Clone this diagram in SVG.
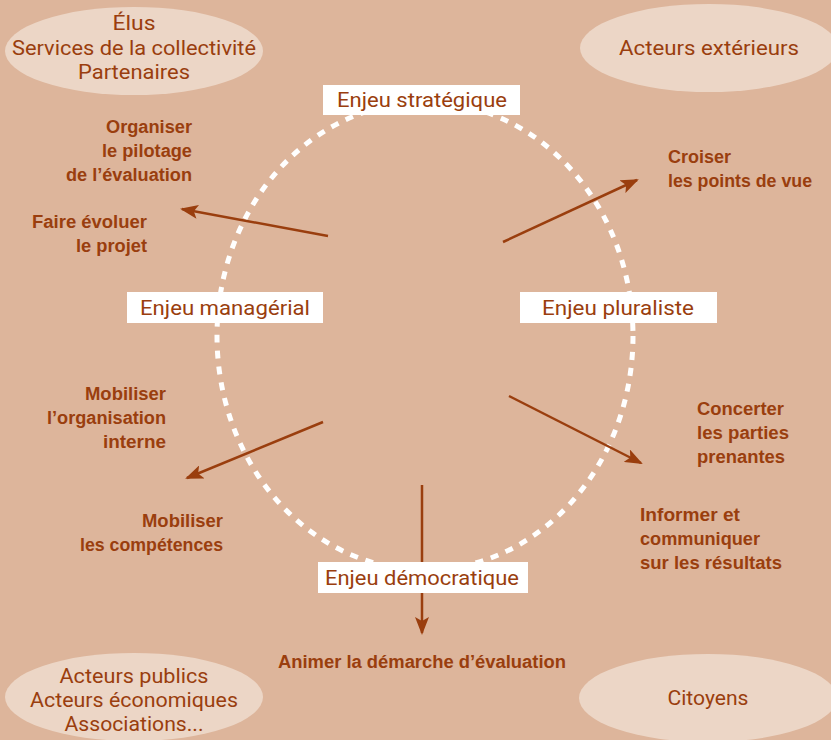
<svg xmlns="http://www.w3.org/2000/svg" width="831" height="740" viewBox="0 0 831 740">
<defs>
<marker id="ah" markerWidth="18" markerHeight="14" refX="16" refY="7" orient="auto" markerUnits="userSpaceOnUse" viewBox="0 0 18 14">
<path d="M0,0 L18,7 L0,14 L4,7 z" fill="#9A3E0E"/>
</marker>
<style>
.bg{fill:#DDB59B}
.ell{fill:#ECD6C6}
.et{font-family:Roboto,"Liberation Sans",sans-serif;font-weight:400;font-size:21px;fill:#9A3E0E;text-anchor:middle}
.box{fill:#FFFFFF}
.bt{font-family:Roboto,"Liberation Sans",sans-serif;font-weight:400;font-size:21px;fill:#9A3E0E;text-anchor:middle}
.lt{font-family:"Liberation Sans","DejaVu Sans",sans-serif;font-size:17.5px;font-weight:bold;fill:#9A3E0E}
.r{text-anchor:end}
.c{text-anchor:middle}
.arr{stroke:#9A3E0E;stroke-width:2.5;fill:none;marker-end:url(#ah)}
.dash{fill:none;stroke:#FFFFFF;stroke-width:5;stroke-dasharray:8 8}
</style>
</defs>
<rect class="bg" x="0" y="0" width="831" height="740"/>
<ellipse class="dash" cx="425" cy="336" rx="208" ry="234"/>
<g id="connectors">
<line class="arr" x1="328" y1="236" x2="182" y2="209"/>
<line class="arr" x1="503" y1="242" x2="637" y2="180"/>
<line class="arr" x1="323" y1="422" x2="187" y2="478"/>
<line class="arr" x1="509" y1="396" x2="641" y2="463"/>
<line class="arr" x1="422" y1="485" x2="422" y2="633"/>
</g>
<g id="elus">
<ellipse class="ell" cx="134" cy="51" rx="129" ry="44"/>
<text class="et" x="134" y="30" textLength="43" lengthAdjust="spacingAndGlyphs">Élus</text>
<text class="et" x="134" y="55" textLength="244" lengthAdjust="spacingAndGlyphs">Services de la collectivité</text>
<text class="et" x="134" y="79" textLength="112" lengthAdjust="spacingAndGlyphs">Partenaires</text>
</g>
<g id="acteurs-exterieurs">
<ellipse class="ell" cx="709" cy="48" rx="129" ry="44"/>
<text class="et" x="709" y="55" textLength="180" lengthAdjust="spacingAndGlyphs">Acteurs extérieurs</text>
</g>
<g id="acteurs-publics">
<ellipse class="ell" cx="134" cy="697" rx="129" ry="44"/>
<text class="et" x="134" y="683" textLength="149" lengthAdjust="spacingAndGlyphs">Acteurs publics</text>
<text class="et" x="134" y="707" textLength="208" lengthAdjust="spacingAndGlyphs">Acteurs économiques</text>
<text class="et" x="134" y="731" textLength="139" lengthAdjust="spacingAndGlyphs">Associations...</text>
</g>
<g id="citoyens">
<ellipse class="ell" cx="708" cy="698" rx="129" ry="44"/>
<text class="et" x="708" y="705" textLength="81" lengthAdjust="spacingAndGlyphs">Citoyens</text>
</g>
<g id="enjeu-strategique">
<rect class="box" x="323" y="85" width="197" height="30"/>
<text class="bt" x="422" y="107" textLength="170" lengthAdjust="spacingAndGlyphs">Enjeu stratégique</text>
</g>
<g id="enjeu-managerial">
<rect class="box" x="127" y="292" width="196" height="31"/>
<text class="bt" x="225" y="315" textLength="170" lengthAdjust="spacingAndGlyphs">Enjeu managérial</text>
</g>
<g id="enjeu-pluraliste">
<rect class="box" x="520" y="292" width="197" height="31"/>
<text class="bt" x="618" y="315" textLength="152" lengthAdjust="spacingAndGlyphs">Enjeu pluraliste</text>
</g>
<g id="enjeu-democratique">
<rect class="box" x="318" y="562" width="210" height="31"/>
<text class="bt" x="422" y="585" textLength="194" lengthAdjust="spacingAndGlyphs">Enjeu démocratique</text>
</g>
<g id="organiser">
<text class="lt r" x="192" y="133" textLength="86" lengthAdjust="spacingAndGlyphs">Organiser</text>
<text class="lt r" x="192" y="157" textLength="90" lengthAdjust="spacingAndGlyphs">le pilotage</text>
<text class="lt r" x="192" y="181" textLength="126" lengthAdjust="spacingAndGlyphs">de l’évaluation</text>
</g>
<g id="faire-evoluer">
<text class="lt r" x="147" y="228" textLength="115" lengthAdjust="spacingAndGlyphs">Faire évoluer</text>
<text class="lt r" x="147" y="252" textLength="71" lengthAdjust="spacingAndGlyphs">le projet</text>
</g>
<g id="croiser">
<text class="lt" x="668" y="163" textLength="63" lengthAdjust="spacingAndGlyphs">Croiser</text>
<text class="lt" x="668" y="187" textLength="144" lengthAdjust="spacingAndGlyphs">les points de vue</text>
</g>
<g id="mobiliser-org">
<text class="lt r" x="166" y="400" textLength="81" lengthAdjust="spacingAndGlyphs">Mobiliser</text>
<text class="lt r" x="166" y="424" textLength="119" lengthAdjust="spacingAndGlyphs">l’organisation</text>
<text class="lt r" x="166" y="448" textLength="63" lengthAdjust="spacingAndGlyphs">interne</text>
</g>
<g id="concerter">
<text class="lt" x="697" y="415" textLength="87" lengthAdjust="spacingAndGlyphs">Concerter</text>
<text class="lt" x="697" y="439" textLength="92" lengthAdjust="spacingAndGlyphs">les parties</text>
<text class="lt" x="697" y="463" textLength="88" lengthAdjust="spacingAndGlyphs">prenantes</text>
</g>
<g id="mobiliser-comp">
<text class="lt r" x="223" y="527" textLength="81" lengthAdjust="spacingAndGlyphs">Mobiliser</text>
<text class="lt r" x="223" y="551" textLength="143" lengthAdjust="spacingAndGlyphs">les compétences</text>
</g>
<g id="informer">
<text class="lt" x="640" y="521" textLength="100" lengthAdjust="spacingAndGlyphs">Informer et</text>
<text class="lt" x="640" y="545" textLength="120" lengthAdjust="spacingAndGlyphs">communiquer</text>
<text class="lt" x="640" y="569" textLength="142" lengthAdjust="spacingAndGlyphs">sur les résultats</text>
</g>
<g id="animer">
<text class="lt c" x="422" y="668" textLength="288" lengthAdjust="spacingAndGlyphs">Animer la démarche d’évaluation</text>
</g>
</svg>
